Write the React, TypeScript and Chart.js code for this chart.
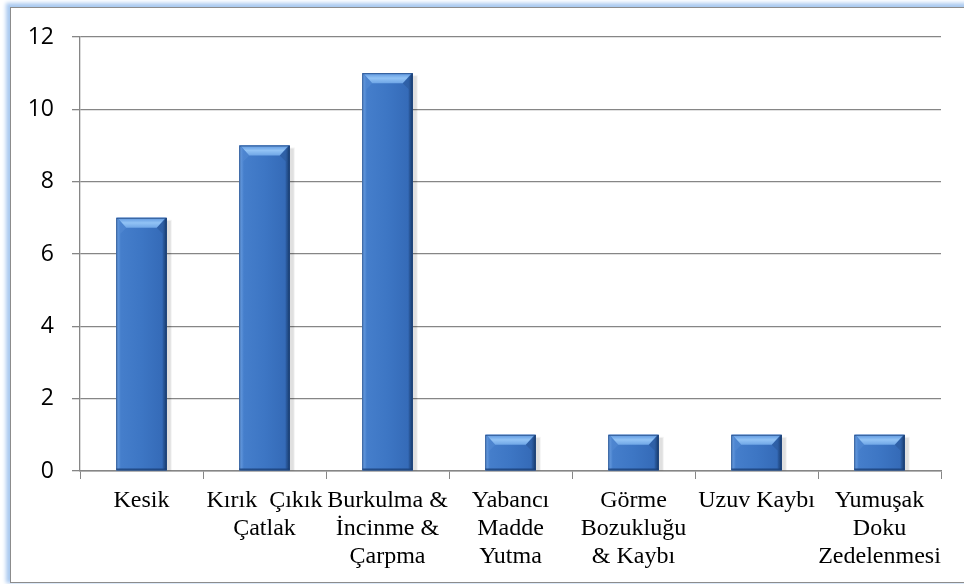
import React, { useEffect, useRef } from "react";
import { Chart, registerables } from "chart.js";

Chart.register(...registerables);

const categories: (string | string[])[] = [
  "Kesik",
  ["Kırık  Çıkık", "Çatlak"],
  ["Burkulma &", "İncinme &", "Çarpma"],
  ["Yabancı", "Madde", "Yutma"],
  ["Görme", "Bozukluğu", "& Kaybı"],
  "Uzuv Kaybı",
  ["Yumuşak", "Doku", "Zedelenmesi"],
];
const values: number[] = [7, 9, 11, 1, 1, 1, 1];
const yMin = 0;
const yMax = 12;
const yStep = 2;

const bevelPlugin = {
  id: "bevel",
  beforeDatasetsDraw(chart: any) {
    const ctx = chart.ctx;
    const meta = chart.getDatasetMeta(0);
    ctx.save();
    meta.data.forEach((el: any) => {
      const w = el.width;
      const x0 = el.x - w / 2;
      const top = el.y;
      const h = el.base - el.y;
      ctx.fillStyle = "rgba(0,0,0,0.08)";
      ctx.fillRect(x0 + 2, top + 3, w + 2, h - 3);
      ctx.fillStyle = "rgba(0,0,0,0.05)";
      ctx.fillRect(x0 + 1, top + 2, w + 4, h - 2);
    });
    ctx.restore();
  },
  afterDatasetsDraw(chart: any) {
    const ctx = chart.ctx;
    const meta = chart.getDatasetMeta(0);
    ctx.save();
    meta.data.forEach((el: any) => {
      const w = el.width;
      const x0 = el.x - w / 2;
      const x1 = el.x + w / 2;
      const top = el.y;
      const bot = el.base;
      const b = Math.min(10, (bot - top) / 2);
      const s = 4;
      // body horizontal gradient
      const g = ctx.createLinearGradient(x0, 0, x1, 0);
      g.addColorStop(0, "#4d86d3");
      g.addColorStop(0.1, "#457ecb");
      g.addColorStop(0.5, "#3d76c4");
      g.addColorStop(0.9, "#356bb8");
      g.addColorStop(1, "#2a5a9c");
      ctx.fillStyle = g;
      ctx.fillRect(x0, top, w, bot - top);
      // left bevel
      const gl = ctx.createLinearGradient(x0, 0, x0 + s, 0);
      gl.addColorStop(0, "rgba(115,165,228,0.9)");
      gl.addColorStop(1, "rgba(85,140,212,0.5)");
      ctx.fillStyle = gl;
      ctx.beginPath();
      ctx.moveTo(x0, top);
      ctx.lineTo(x0 + b, top + b);
      ctx.lineTo(x0 + s, top + b + 6);
      ctx.lineTo(x0 + s, bot - 2);
      ctx.lineTo(x0, bot);
      ctx.closePath();
      ctx.fill();
      // right bevel
      const gr = ctx.createLinearGradient(x1 - s, 0, x1, 0);
      gr.addColorStop(0, "rgba(40,85,150,0.5)");
      gr.addColorStop(1, "rgba(22,55,105,0.95)");
      ctx.fillStyle = gr;
      ctx.beginPath();
      ctx.moveTo(x1, top);
      ctx.lineTo(x1 - b, top + b);
      ctx.lineTo(x1 - s, top + b + 6);
      ctx.lineTo(x1 - s, bot - 2);
      ctx.lineTo(x1, bot);
      ctx.closePath();
      ctx.fill();
      // top bevel
      const gt = ctx.createLinearGradient(0, top, 0, top + b);
      gt.addColorStop(0, "#5d96df");
      gt.addColorStop(0.5, "#92c3f5");
      gt.addColorStop(1, "#6fa6e6");
      ctx.fillStyle = gt;
      ctx.beginPath();
      ctx.moveTo(x0 + 1, top);
      ctx.lineTo(x1 - 1, top);
      ctx.lineTo(x1 - b, top + b);
      ctx.lineTo(x0 + b, top + b);
      ctx.closePath();
      ctx.fill();
      // bottom dark edge
      ctx.fillStyle = "rgba(25,60,115,0.6)";
      ctx.fillRect(x0, bot - 2, w, 2);
      // outline
      ctx.strokeStyle = "rgba(30,65,120,0.7)";
      ctx.lineWidth = 1;
      ctx.strokeRect(x0 + 0.5, top + 0.5, w - 1, bot - top - 1);
    });
    ctx.restore();
  },
};

export default function App() {
  const ref = useRef<HTMLCanvasElement>(null);
  useEffect(() => {
    document.body.style.margin = "0";
    const canvas = ref.current!;
    const chart = new Chart(canvas, {
      type: "bar",
      data: {
        labels: categories,
        datasets: [
          {
            data: values,
            backgroundColor: "#3d76c4",
            borderWidth: 0,
            barPercentage: 0.41,
            categoryPercentage: 1,
          },
        ],
      },
      options: {
        animation: false,
        responsive: false,
        maintainAspectRatio: false,
        layout: { padding: { left: 0, right: 23, top: 37, bottom: 0 } },
        plugins: {
          legend: { display: false },
          tooltip: { enabled: false },
        },
        scales: {
          x: {
            offset: true,
            grid: {
              offset: true,
              drawOnChartArea: false,
              drawTicks: true,
              tickLength: 8,
              color: "#868686",
              lineWidth: 1,
            },
            border: { color: "#868686", width: 1.5 },
            ticks: {
              autoSkip: false,
              maxRotation: 0,
              minRotation: 0,
              color: "#000",
              padding: 8,
              font: { family: "'Liberation Serif', 'Times New Roman', serif", size: 24, lineHeight: 1.16 },
            },
            afterFit(scale: any) {
              scale.height = 113;
            },
          },
          y: {
            min: yMin,
            max: yMax,
            grid: {
              color: "#868686",
              lineWidth: 1.3,
              tickLength: 8,
            },
            border: { color: "#868686", width: 1.3 },
            ticks: {
              stepSize: yStep,
              color: "#000",
              padding: 18,
              font: { family: "'Open Sans', sans-serif", size: 23 },
            },
            afterFit(scale: any) {
              scale.width = 80;
            },
          },
        },
      },
      plugins: [bevelPlugin],
    } as any);
    return () => chart.destroy();
  }, []);

  return (
    <div style={{ position: "fixed", left: 0, top: 0, width: 964, height: 584, overflow: "hidden", background: "#fff" }}>
      <div
        style={{
          position: "absolute",
          left: 10,
          top: 7,
          width: 1000,
          height: 574,
          border: "1.5px solid #8c8c8c",
          boxShadow: "-2px -2px 4px 2px #a9c9f0",
          background: "#fff",
        }}
      />
      <canvas ref={ref} width={964} height={584} style={{ position: "absolute", left: 0, top: 0 }} />
    </div>
  );
}
